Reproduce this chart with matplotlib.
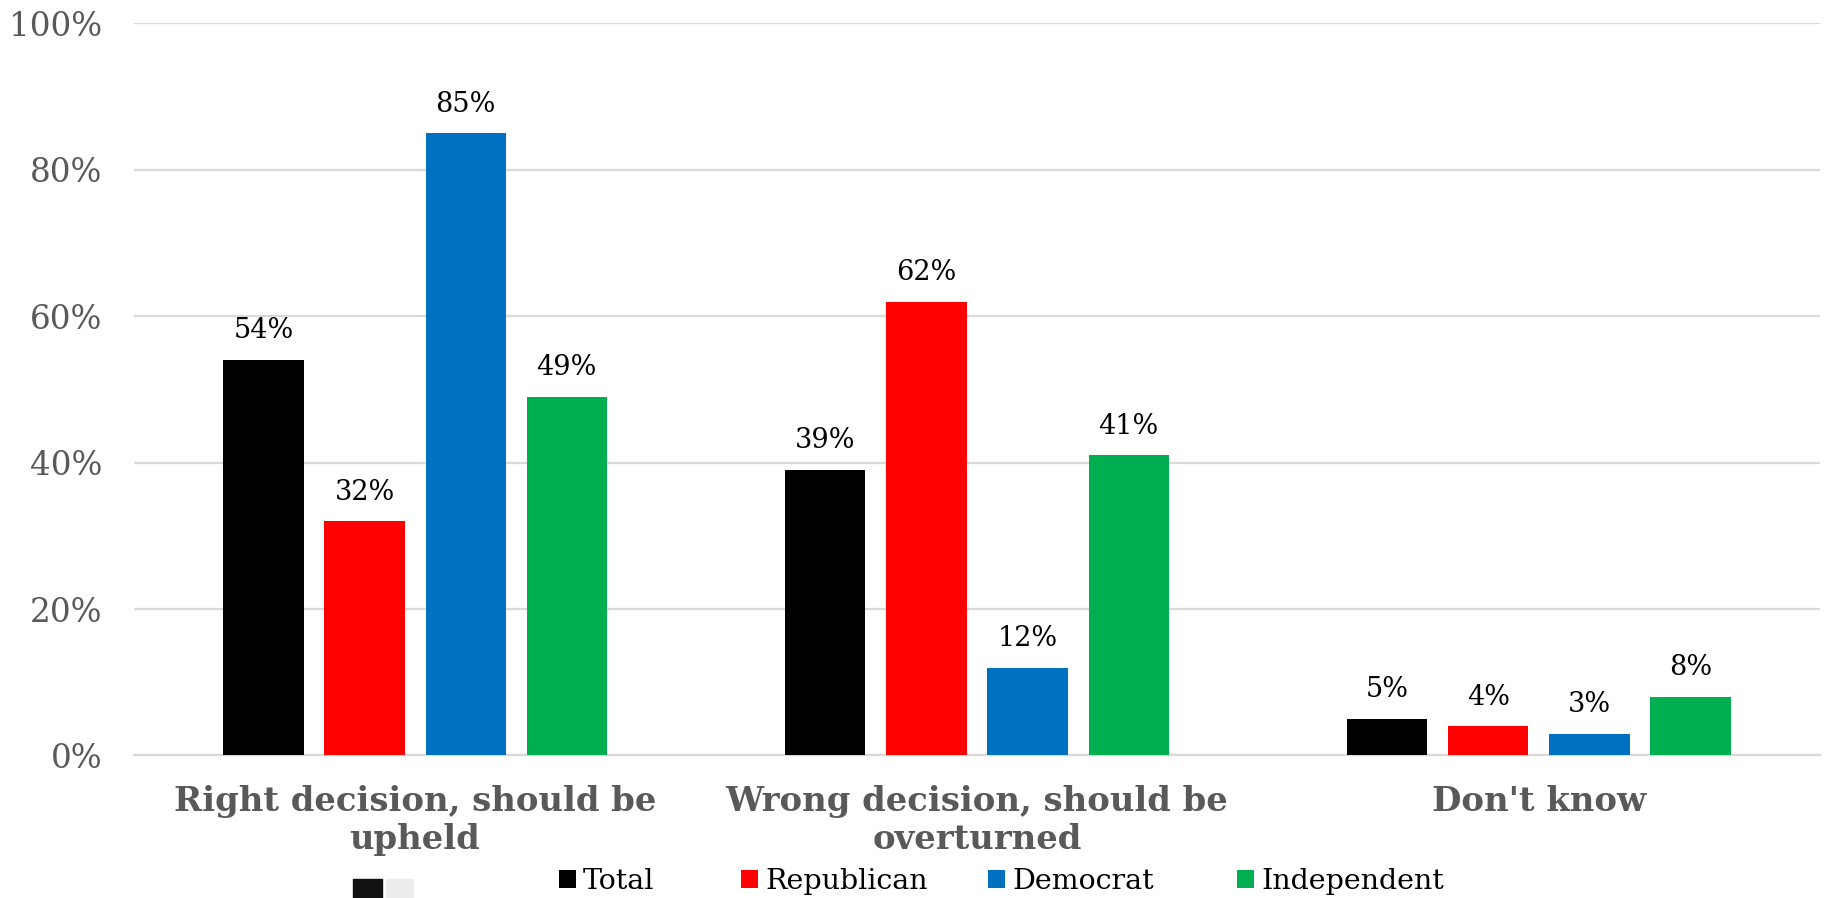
import numpy as np
import matplotlib
matplotlib.use('Agg')
import matplotlib.pyplot as plt
from matplotlib.patches import Rectangle

categories = ['Right decision, should be\nupheld',
              'Wrong decision, should be\noverturned',
              "Don't know"]
series = ['Total', 'Republican', 'Democrat', 'Independent']
values = {
    'Total': [54, 39, 5],
    'Republican': [32, 62, 4],
    'Democrat': [85, 12, 3],
    'Independent': [49, 41, 8],
}
colors = ['#000000', '#ff0000', '#0070c0', '#00b050']
yticks = [0, 20, 40, 60, 80, 100]
# left edge of each legend entry, in figure pixels
legend_x = [559, 741, 988, 1237]

plt.rcParams['font.family'] = ['DejaVu Serif']

W, H = 1828, 898
fig = plt.figure(figsize=(W / 100, H / 100), dpi=100)
ax = fig.add_axes([0.0734, 0.1587, 0.9221, 0.8153])

x = np.arange(len(categories))
step = 0.18
width = 0.143
bars = []
for i, name in enumerate(series):
    pos = x + (i - 1.5) * step
    b = ax.bar(pos, values[name], width, color=colors[i], label=name, zorder=3)
    bars.append(b)
    for px, v in zip(pos, values[name]):
        ax.annotate(f'{v}%', (px, v), xytext=(0, 21), textcoords='offset points',
                    ha='center', va='center', fontsize=19.5, color='black')

ax.set_xlim(-0.5, 2.5)
ax.set_ylim(0, 100)
ax.set_yticks(yticks)
ax.set_yticklabels([f'{t}%' for t in yticks], fontsize=23.5, color='#595959')
ax.set_xticks(x)
ax.set_xticklabels(categories, fontsize=24.4, fontweight='bold', color='#595959',
                   linespacing=1.2)
ax.tick_params(axis='y', length=0, pad=23)
ax.tick_params(axis='x', length=0, pad=21)
ax.grid(axis='y', color='#d9d9d9', linewidth=1.6, zorder=0)
ax.set_axisbelow(True)
for s in ['top', 'right', 'left']:
    ax.spines[s].set_visible(False)
ax.spines['bottom'].set_color('#d9d9d9')
ax.spines['bottom'].set_linewidth(1.6)

# one legend per entry so the uneven spacing of the original can be kept
for b, name, lx in zip(bars, series, legend_x):
    fig.legend(handles=[b], labels=[name], loc='center left',
               bbox_to_anchor=(lx / W, 0.018), frameon=False, fontsize=20.5,
               handlelength=0.6, handleheight=0.6, handletextpad=0.25,
               borderpad=0, borderaxespad=0)

# small swatches at the lower left of the legend area
fig.patches.append(Rectangle((353 / W, 0), 29 / W, 19 / H,
                             transform=fig.transFigure, color='#111111'))
fig.patches.append(Rectangle((386 / W, 0), 27 / W, 19 / H,
                             transform=fig.transFigure, color='#ececec'))

fig.savefig('out.png', dpi=100)
plt.close()
